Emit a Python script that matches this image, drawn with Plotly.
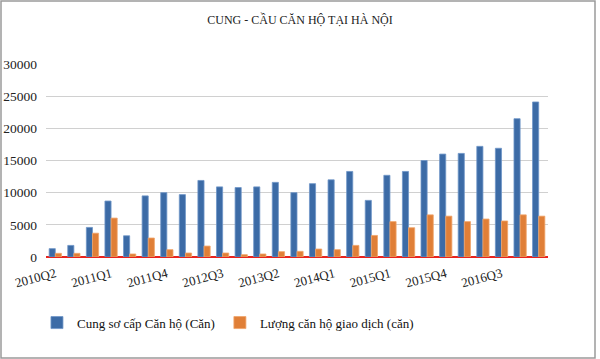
import plotly.graph_objects as go

categories = [
    "2010Q2", "2010Q3", "2010Q4", "2011Q1", "2011Q2", "2011Q3", "2011Q4",
    "2012Q1", "2012Q2", "2012Q3", "2012Q4", "2013Q1", "2013Q2", "2013Q3",
    "2013Q4", "2014Q1", "2014Q3", "2014Q4", "2015Q1", "2015Q2", "2015Q3",
    "2015Q4", "2016Q1", "2016Q2", "2016Q3", "2016Q4", "2017Q1",
]
supply = [1300, 1800, 4600, 8700, 3300, 9500, 10000, 9700, 11900, 10900, 10800,
          10900, 11600, 10000, 11400, 12000, 13300, 8800, 12700, 13300, 15000,
          16000, 16100, 17200, 16900, 21500, 24100]
transactions = [570, 570, 3700, 6050, 470, 2950, 1140, 620, 1700, 620, 360,
                470, 830, 880, 1240, 1140, 1800, 3350, 5500, 4550, 6550,
                6350, 5500, 5900, 5600, 6550, 6350]
tick_labels = ["2010Q2", "2011Q1", "2011Q4", "2012Q3", "2013Q2", "2014Q1",
               "2015Q1", "2015Q4", "2016Q3"]
y_ticks = [0, 5000, 10000, 15000, 20000, 25000, 30000]

serif = "Liberation Serif, Times New Roman, serif"

fig = go.Figure()
fig.add_trace(go.Bar(
    x=categories, y=supply, name="Cung sơ cấp Căn hộ (Căn)",
    marker=dict(color="#3C6BA6", line=dict(color="#6F95C8", width=0.8)),
))
fig.add_trace(go.Bar(
    x=categories, y=transactions, name="Lượng căn hộ giao dịch (căn)",
    marker=dict(color="#E07F37", line=dict(color="#F0A46A", width=0.8)),
))

fig.update_layout(
    width=600, height=359,
    paper_bgcolor="white", plot_bgcolor="white",
    margin=dict(l=46, r=52, t=64, b=102, autoexpand=False),
    barmode="group", bargap=0.34, bargroupgap=0,
    title=dict(text="CUNG - CẦU CĂN HỘ TẠI HÀ NỘI", x=0.5, xanchor="center",
               y=0.945, yanchor="middle",
               font=dict(family=serif, size=12, color="#222222")),
    font=dict(family=serif, color="#222222"),
    legend=dict(orientation="h", x=-0.018, xanchor="left", y=-0.34, yanchor="middle",
                font=dict(family=serif, size=13, color="#111111"),
                itemwidth=30, traceorder="normal"),
    xaxis=dict(
        type="category", tickmode="array", tickvals=tick_labels, ticktext=tick_labels,
        tickangle=-15, tickfont=dict(family=serif, size=13, color="#222222"),
        showgrid=False, showline=False, ticks="", ticklabelstandoff=6,
    ),
    yaxis=dict(
        range=[0, 30000], tickvals=y_ticks, tickformat="d",
        tickfont=dict(family=serif, size=13.5, color="#222222"),
        showgrid=True, gridcolor="#D0D0D0", gridwidth=1,
        zeroline=True, zerolinecolor="#E8231E", zerolinewidth=1.6,
        ticks="", showline=False, ticklabelstandoff=8,
    ),
    shapes=[dict(type="rect", xref="paper", yref="paper",
                 x0=-45/502, x1=(600-5-46)/502, y0=-101/193, y1=1+63/193,
                 line=dict(color="#9A9A9A", width=1.5), fillcolor="rgba(0,0,0,0)",
                 layer="below")],
)

fig.write_html("out.html", config={"displayModeBar": False},
               post_script="document.body.style.margin='0';")
